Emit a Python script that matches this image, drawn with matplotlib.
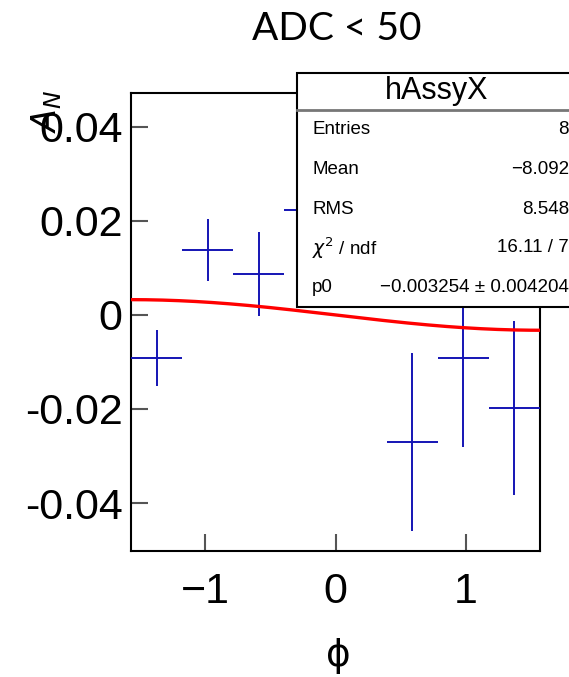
import numpy as np
import matplotlib
matplotlib.use("Agg")
import matplotlib.pyplot as plt
from matplotlib.patches import Rectangle
from matplotlib.lines import Line2D

# ---- data ----
n_bins = 8
phi_lo, phi_hi = -np.pi / 2, np.pi / 2
asym = [-0.0091, 0.0138, 0.0087, 0.0223, 0.0280, -0.0270, -0.0091, -0.0198]
asym_err = [0.0060, 0.0066, 0.0090, 0.0100, 0.0120, 0.0190, 0.0190, 0.0185]
p0 = -0.003254
title = "ADC < 50"
stats_name = "hAssyX"
stats_labels = ["Entries", "Mean", "RMS", r"$\chi^{2}$ / ndf", "p0"]
stats_values = ["8", "\u22128.092", "8.548", "16.11 / 7", "\u22120.003254 \u00b1 0.004204"]
xticks = [-1, 0, 1]
yticks = [-0.04, -0.02, 0.0, 0.02, 0.04]

W, H = 569, 677
fig = plt.figure(figsize=(W / 100, H / 100), dpi=100)
ax = fig.add_axes([131 / W, 1 - 551 / H, (540 - 131) / W, (551 - 93) / H])

edges = np.linspace(phi_lo, phi_hi, n_bins + 1)
centers = 0.5 * (edges[:-1] + edges[1:])
halfw = 0.5 * (edges[1] - edges[0])

blue = "#1414b4"
ax.errorbar(centers, asym, xerr=halfw, yerr=asym_err, fmt="none",
            ecolor=blue, elinewidth=1.4, capsize=0, zorder=3)

xf = np.linspace(phi_lo, phi_hi, 300)
ax.plot(xf, p0 * np.sin(xf), color="#ff0000", lw=2.4, zorder=4)

ax.set_xlim(phi_lo, phi_hi)
ax.set_ylim(-0.0502, 0.0472)
ax.set_xticks(xticks)
ax.set_xticklabels([("\u2212%d" % -t) if t < 0 else "%d" % t for t in xticks])
ax.set_yticks(yticks)
ax.set_yticklabels([("%.2f" % t) if abs(t) > 1e-9 else "0" for t in yticks])

for lab in ax.get_xticklabels() + ax.get_yticklabels():
    lab.set_fontfamily("Liberation Sans")
    lab.set_fontsize(31)
ax.tick_params(axis="both", direction="in", length=12, width=1.5, color="#555555")
ax.tick_params(axis="x", pad=15)
ax.tick_params(axis="y", pad=6)
for s in ax.spines.values():
    s.set_linewidth(1.5)
    s.set_color("black")

# title and axis labels
fig.text(337 / W, 1 - 29 / H, title, ha="center", va="center", fontsize=28, family="Lato")
fig.text(338 / W, 1 - 638 / H, "\u03d5", ha="center", va="top", fontsize=27, family="DejaVu Sans")
fig.text(47 / W, 1 - 90 / H, r"$A_{N}$", rotation=90, ha="center", va="top", fontsize=24,
         family="Liberation Sans")

# stats box
bx0, by0, bx1, by1 = 297, 73, 578, 307
box = Rectangle((bx0 / W, 1 - by1 / H), (bx1 - bx0) / W, (by1 - by0) / H,
                transform=fig.transFigure, facecolor="white", edgecolor="black",
                lw=1.5, zorder=10)
fig.patches.append(box)
fig.add_artist(Line2D([bx0 / W, bx1 / W], [1 - 110 / H, 1 - 110 / H], transform=fig.transFigure,
                      color="#777777", lw=2, zorder=11))
fig.text(437 / W, 1 - 91 / H, stats_name, ha="center", va="center", fontsize=22,
         family="Liberation Sans", zorder=12)
row_y = [130, 170, 209, 248, 287]
for ry, lab, val in zip(row_y, stats_labels, stats_values):
    fig.text(312 / W, 1 - ry / H, lab, ha="left", va="center", fontsize=13.5,
             family="Liberation Sans", zorder=12)
    fig.text(569 / W, 1 - ry / H, val, ha="right", va="center", fontsize=13.5,
             family="Liberation Sans", zorder=12)

fig.savefig("out.png", dpi=100)
